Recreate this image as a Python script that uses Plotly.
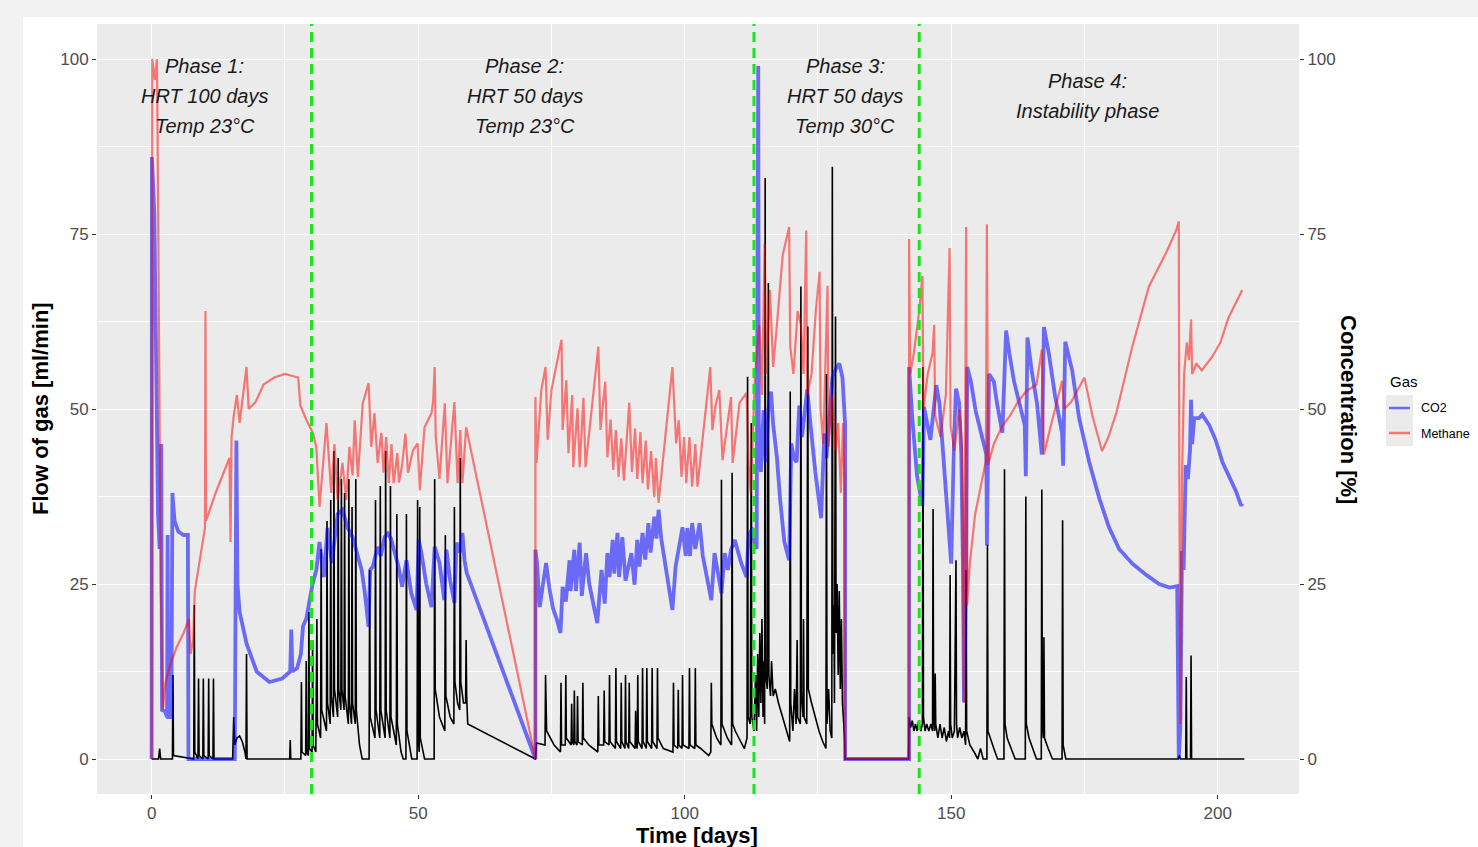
import plotly.graph_objects as go

# ---------------- data ----------------
# (time [days], value) pairs
methane_p1 = [(0, 0), (0.1, 100), (0.6, 97), (1.0, 100), (1.3, 70), (1.7, 25), (2.1, 7), (2.6, 11), (3.5, 13.5),
              (4.7, 16), (6, 18), (7.0, 20), (7.3, 15), (7.8, 17), (8.1, 24), (9.0, 28), (9.6, 31), (10.0, 33),
              (10.1, 64), (10.2, 34), (12, 38), (13.5, 41), (14.6, 43), (14.8, 31), (15.0, 46), (15.4, 49),
              (16.0, 52), (16.5, 48), (17.8, 56), (18.2, 50), (19.5, 51), (21, 53.5), (23, 54.5), (25, 55),
              (27.5, 54.5), (27.9, 50.5), (29.0, 48.5), (30.3, 46.5), (30.9, 44.5)]
methane_p2a = [(31.5, 36), (32.8, 48), (33.7, 38), (34.3, 45), (34.9, 37), (35.8, 42.3), (36.5, 37), (37.1, 44.6),
               (37.7, 40.5), (38.1, 48.4), (38.7, 40.3), (39.6, 50.8), (40.7, 53.7), (41.2, 44.6), (41.8, 49.4),
               (42.4, 42.3), (43.1, 46.6), (43.5, 40.9), (44.0, 46), (44.5, 39.4), (45.0, 45), (45.4, 39.4),
               (46.1, 43.7), (46.4, 39.5), (47.0, 42), (47.6, 46.5), (48.1, 40.9), (49.0, 44), (49.9, 45.1),
               (50.3, 38.4), (51.2, 47.4), (52.5, 49.4), (52.8, 51), (53.1, 56), (53.3, 46), (54.0, 40),
               (55.0, 50.8), (55.5, 39.4), (56.8, 51), (57.4, 39.4), (57.9, 47), (58.3, 39.4), (59.0, 47.4),
               (72.0, 0)]
methane_p2b = [(72.0, 51.7), (72.2, 42.3), (73.1, 52.7), (73.9, 56), (74.3, 45.6), (75, 52.7), (76.9, 59.9),
               (77.1, 47), (77.8, 54.1), (78.2, 43.7), (78.9, 52), (79.1, 41.7), (79.9, 50.1), (80.3, 41.7),
               (81, 51.6), (81.4, 41.7), (83.8, 58.9), (84.2, 47), (85.1, 53.9), (85.5, 43.1), (86.1, 48.5),
               (86.6, 41.3), (87.1, 47.0), (87.6, 40.3), (88.1, 45.8), (88.6, 39.8), (89.6, 50.9), (90.1, 41),
               (90.7, 47.2), (91.1, 40), (91.7, 46.7), (92.1, 39.4), (92.7, 45.5), (93.1, 38.5), (93.7, 44),
               (94.3, 37.4), (94.6, 43), (95.1, 36.6), (97.7, 56), (98.4, 45.1), (98.9, 48.4), (99.4, 40.3),
               (99.9, 46), (100.3, 39.4), (100.9, 46), (101.4, 38.9), (102, 45), (102.4, 38.9), (104.8, 56),
               (105.2, 47), (105.8, 50.5), (106.5, 52.7), (107.1, 42.7), (108.7, 51.7), (109, 42.3),
               (110.3, 50.9), (111.6, 52.3), (112.0, 42), (112.4, 38), (112.8, 46)]
methane_p3 = [(113.2, 55), (114.0, 62), (114.5, 52), (115.0, 73.6), (115.3, 55), (116.0, 67), (116.6, 56),
              (117.3, 62), (118.4, 72), (119.6, 76), (119.8, 59), (120.4, 55), (121.2, 64), (121.8, 62),
              (122.3, 55), (122.8, 75.5), (123.0, 52), (123.8, 55), (124.6, 64), (125.3, 69.6), (125.5, 50),
              (126.0, 45), (126.8, 67.6), (127.0, 44.6), (127.6, 52), (128.3, 44), (128.8, 48), (129.3, 38),
              (129.7, 48), (130.0, 40), (130.1, 0), (142.1, 0)]
methane_p4 = [(142.1, 74.3), (142.3, 55), (143.0, 58), (144.0, 64), (144.6, 69), (144.8, 50), (145.6, 55),
              (146.5, 58), (146.8, 62), (147.0, 49), (148, 46), (149.0, 52), (149.7, 73), (149.9, 47.5),
              (150.6, 44), (151.5, 50), (152.0, 45), (152.4, 8), (152.6, 40), (152.8, 76), (153.0, 22),
              (153.5, 28), (154.5, 35), (155.5, 39), (156.5, 42.5), (156.7, 76.4), (156.9, 42), (158, 45),
              (159.5, 47.5), (161, 49), (162.5, 51), (164, 52.5), (166, 53.5), (167.0, 58.5), (167.4, 43.5),
              (168.5, 47), (170.8, 54), (171.2, 50), (172.5, 51), (175, 54.5), (176.5, 49), (178.3, 44),
              (179.5, 46), (181, 49.5), (184, 59), (187.1, 67.5), (190.3, 72.3), (192.2, 75.5), (192.7, 76.8),
              (192.8, 40), (193.0, 5), (193.3, 40), (193.7, 55), (194.2, 59.5), (194.6, 57), (195.0, 62.8),
              (195.2, 55), (196, 56.5), (197, 55.5), (199, 57.5), (200.5, 59.5), (202, 63), (203, 64.5),
              (204, 66.2), (204.6, 67)]

co2_p1 = [(0, 0), (0.05, 86), (0.5, 78), (0.9, 47), (1.2, 35), (1.5, 30), (1.8, 45), (1.95, 7), (2.5, 6.8),
          (2.9, 6), (3.0, 32), (3.1, 6), (3.7, 6), (3.9, 38), (4.3, 34), (5, 32.5), (6, 32), (6.8, 32), (6.9, 0),
          (15.6, 0), (15.9, 45.5), (16.1, 25), (16.5, 21), (17.8, 16.5), (19.7, 12.5), (22.1, 11), (24.5, 11.5),
          (26.0, 12.5), (26.2, 18.5), (26.4, 12.5), (27.3, 13), (28, 15), (28.4, 19), (29.0, 20), (29.6, 22.5),
          (30.2, 25), (30.9, 27), (31.5, 31)]
co2_p2a = [(32.3, 26), (33, 33), (33.8, 28), (34.9, 35), (35.8, 35.6), (36.8, 33), (37.7, 31.7), (38.5, 29.5),
           (39.4, 27), (40, 23.7), (40.7, 18.9), (41, 27), (41.5, 27.5), (42.4, 30.3), (43, 29), (43.7, 31.7),
           (44.3, 32.2), (44.9, 31.5), (45.6, 29.4), (46.3, 27.5), (47, 24.6), (47.8, 28.4), (48.7, 23.7),
           (49.7, 21.3), (50.1, 31.3), (50.6, 29.5), (51.5, 25.1), (52.5, 21.7), (53.1, 30.3), (54, 28),
           (54.9, 22.7), (55.3, 29.9), (56, 25.5), (56.8, 22.3), (57.2, 30.9), (57.8, 29.5), (58.3, 32.3),
           (58.7, 28.4), (59.1, 26.6), (72, 0)]
co2_p2b = [(72, 29.9), (72.3, 28), (72.8, 21.7), (74, 28), (74.6, 24.5), (75.3, 21.5), (76, 20), (76.7, 18),
           (77.1, 24.6), (77.7, 22.5), (78.4, 28.4), (78.6, 24), (79.3, 29.9), (79.6, 24), (80.3, 30.9),
           (80.7, 23.3), (81.5, 29.4), (82.1, 25), (83.6, 19.4), (84.4, 27), (85, 22.2), (85.5, 29.4), (85.9, 26),
           (86.5, 31.3), (86.8, 26.5), (87.4, 32.3), (87.7, 26), (88.3, 31.7), (88.9, 25.5), (90, 29.4),
           (90.6, 24.9), (91.1, 31.3), (91.5, 27.5), (92.1, 32.3), (92.6, 28.5), (93.2, 33.7), (93.6, 29.5),
           (94.3, 34.6), (94.7, 31.5), (95.1, 35.6), (95.6, 31.5), (96.6, 26.6), (97.7, 21.3), (98.3, 27.5),
           (99, 30.3), (99.6, 33.1), (100.2, 29), (100.5, 33), (101, 29), (101.4, 33.7), (102, 30), (102.8, 33.7),
           (103.4, 29), (105, 22.7), (105.6, 29.4), (106.2, 26.5), (106.9, 23.7), (107.5, 29.4), (108.1, 27),
           (108.7, 29.9), (109.4, 31.3), (110.6, 28), (111.6, 26), (112.0, 32), (112.8, 33), (113.1, 31)]
co2_p3 = [(113.5, 30), (113.8, 99), (113.9, 47.8), (114.3, 41), (114.8, 49.8), (115.2, 42.4), (115.7, 50),
          (116.2, 52.5), (116.6, 47.8), (117.3, 43.1), (117.9, 37.1), (118.7, 31), (119.6, 28.4), (120, 45.1),
          (120.5, 43), (121.0, 42.4), (121.5, 50.5), (122, 46), (122.6, 50), (123, 52.8), (123.6, 47.8),
          (124.5, 41.1), (125.6, 34.4), (126.2, 46.5), (126.6, 43), (127.2, 49), (127.7, 54.5), (128.4, 55.8),
          (129, 56.5), (129.6, 54.5), (130.1, 47.8), (130.1, 0), (142.1, 0)]
co2_p4 = [(142.1, 56), (142.7, 48.7), (143.6, 40.4), (144.6, 36.2), (144.9, 50.3), (145.5, 47.7), (146.1, 45.6),
          (147.2, 53.4), (147.8, 50.8), (148.5, 43.5), (149.4, 34.1), (150, 27.9), (150.5, 45), (150.9, 52.9),
          (151.5, 50.8), (151.9, 43.5), (152.2, 27.9), (152.4, 8.1), (152.8, 25), (153.0, 56), (153.7, 53.9),
          (154.6, 49.7), (155.6, 46.6), (156.6, 43.5), (156.7, 30.5), (157.1, 55), (158, 53.9), (158.6, 50.8),
          (159.6, 46.6), (160.3, 61.2), (160.9, 58), (161.8, 53.9), (162.8, 50.8), (163.8, 47.7), (164.0, 40.4),
          (164.3, 60.2), (165.1, 55.5), (166.1, 50.8), (167, 43.5), (167.4, 61.7), (168.3, 58), (169.5, 51.8),
          (170.8, 46.6), (171, 41.9), (171.4, 59.6), (172.7, 55.5), (174, 48.7), (175.9, 42.4), (177.8, 37.2),
          (179.6, 33.1), (181.5, 30), (184, 27.9), (186.6, 26.3), (189, 25), (191, 24.5), (192.4, 24.7),
          (192.7, 0), (193.0, 5), (193.3, 29.7), (193.6, 27), (194, 42), (194.4, 40), (194.8, 44), (195, 51.3),
          (195.2, 45), (195.6, 48.7), (196.5, 48.7), (197.1, 49.2), (198.4, 47.7), (199.6, 45.6), (200.9, 42.4),
          (202.1, 40.4), (203.4, 38.3), (204.4, 36.2), (204.6, 36.5)]

flow_p1 = [(0, 0), (1.3, 0), (1.5, 1.5), (1.7, 0), (3.9, 0), (4.0, 12), (4.1, 0.5), (7.9, 0), (8.0, 22), (8.1, 1),
           (8.7, 0), (8.8, 11.5), (8.9, 0.5), (9.6, 0), (9.7, 11.5), (9.8, 0.5), (10.6, 0), (10.7, 11.5),
           (10.8, 0.5), (11.5, 0), (11.6, 11.5), (11.7, 0), (15.2, 0), (15.4, 6), (15.6, 2), (16.0, 3),
           (16.5, 3.3), (17.0, 2.5), (17.5, 1), (17.7, 0), (17.8, 15), (17.9, 0), (25.9, 0), (26.0, 2.7),
           (26.1, 0), (28.0, 0), (28.1, 11), (28.2, 1), (28.9, 0.5), (29.0, 14), (29.1, 1), (29.4, 0.5),
           (29.5, 21), (29.6, 1.5), (30.1, 1), (30.2, 17), (30.3, 2), (30.8, 1)]
flow_p2a = [(31.0, 20), (31.1, 5), (31.7, 3), (31.8, 30), (31.9, 7), (32.8, 4), (32.9, 34), (33.0, 8), (33.5, 5),
            (33.6, 37), (33.7, 9), (34.1, 6), (34.2, 44), (34.3, 10), (34.9, 6), (35.0, 43), (35.1, 10),
            (35.5, 7), (35.6, 40), (35.7, 10), (36.1, 7), (36.2, 38), (36.3, 9), (36.9, 5), (37.0, 40), (37.1, 8),
            (37.5, 5), (37.6, 36), (37.7, 8), (38.2, 5), (38.3, 40), (38.4, 7), (39.0, 2), (39.5, 0), (40.8, 0),
            (40.9, 27), (41.0, 6), (41.9, 3), (42.0, 37), (42.1, 7), (42.8, 3), (42.9, 39), (43.0, 7), (43.8, 3),
            (43.9, 44), (44.0, 7), (44.7, 3), (44.8, 39), (44.9, 6), (45.9, 2), (46.0, 35), (46.1, 5), (46.8, 1),
            (47.2, 0), (47.7, 0), (47.8, 35), (47.9, 4), (48.8, 0), (49.8, 0), (49.9, 37), (50.0, 3), (50.2, 1),
            (50.3, 36), (50.4, 3), (51.2, 0), (53.0, 0), (53.1, 40), (53.2, 10), (54.0, 6), (55.0, 4),
            (55.1, 32), (55.2, 9), (56.0, 6), (56.7, 5), (56.8, 36), (56.9, 11), (57.4, 8), (57.8, 7),
            (57.9, 43), (58.0, 11), (58.5, 8), (58.9, 8), (59.0, 17), (59.1, 9), (59.3, 5), (72.0, 0)]
flow_p2b = [(72.2, 2.3), (73.8, 2), (73.9, 12), (74.1, 4), (75.5, 2), (76.7, 1), (76.8, 10.9), (76.9, 2),
            (77.6, 2), (77.7, 12), (77.8, 3), (78.7, 2), (78.8, 7.9), (78.9, 2.5), (79.2, 2), (79.3, 9.8),
            (79.4, 2.5), (79.8, 2), (79.9, 9), (80.0, 2.5), (80.8, 2), (80.9, 10.9), (81.0, 3), (82, 2),
            (83.7, 1), (83.8, 9), (83.9, 2), (84.8, 2), (84.9, 9.8), (85.0, 2.5), (85.8, 2), (85.9, 12),
            (86.0, 2.5), (87.0, 1.5), (87.1, 13), (87.2, 2.5), (88.0, 1.5), (88.1, 10.9), (88.2, 2.5),
            (88.8, 1.5), (88.9, 12), (89.0, 2.5), (89.5, 1.5), (89.6, 10.9), (89.7, 2.5), (90.7, 1.5),
            (90.8, 6.9), (90.9, 2), (91.1, 1.5), (91.2, 12), (91.3, 2.5), (92.0, 1.5), (92.1, 13), (92.2, 2.5),
            (92.8, 1.5), (92.9, 13), (93.0, 2.5), (93.8, 1.5), (93.9, 13), (94.0, 2.5), (94.8, 1.5), (94.9, 13),
            (95.0, 3), (96, 1.5), (97.8, 1), (97.9, 10.9), (98.0, 2), (98.7, 1.5), (98.8, 9.9), (98.9, 2),
            (99.5, 1.5), (99.6, 12), (99.7, 2), (100.8, 1.5), (100.9, 13), (101.0, 2), (101.9, 1.5), (102.0, 13),
            (102.1, 2), (103, 1.5), (104.5, 0.5), (104.9, 1), (105.0, 10.9), (105.1, 5), (106, 3), (106.8, 2),
            (106.9, 39.9), (107.0, 5), (107.5, 4), (108, 3), (108.8, 2), (108.9, 40.9), (109.0, 5), (109.5, 4),
            (110.5, 2.5), (111.2, 1.5), (111.7, 3), (111.8, 54.6), (111.9, 6), (112.3, 5), (112.5, 48),
            (112.6, 6), (113.0, 4)]
flow_p3 = [(113.3, 12), (113.5, 4), (113.7, 15), (113.9, 6), (114.1, 18), (114.3, 8), (114.5, 20), (114.7, 6),
           (114.9, 14), (115.0, 5), (115.1, 83), (115.2, 12), (115.5, 10), (115.7, 68), (115.8, 12), (116.1, 9),
           (116.3, 14), (116.6, 9), (117, 10), (117.6, 8), (118.2, 6.5), (118.8, 5), (119.4, 3.5), (119.7, 2.5),
           (119.8, 52.5), (119.9, 8), (120.3, 4), (120.6, 10), (120.9, 5), (121.1, 17), (121.2, 6), (121.7, 5),
           (121.8, 67.5), (121.9, 9), (122.2, 6), (122.3, 20), (122.4, 6), (122.9, 5), (123.1, 61.8),
           (123.2, 10), (123.8, 8), (124.5, 6), (125.2, 4), (125.9, 2.5), (126.5, 1.5), (126.6, 55), (126.7, 5),
           (127, 10), (127.3, 4), (127.6, 3), (127.7, 84.6), (127.8, 15), (128.0, 22), (128.1, 8), (128.3, 63.2),
           (128.4, 18), (128.6, 25), (128.8, 12), (129.0, 24), (129.2, 10), (129.4, 20), (129.6, 8), (129.9, 5),
           (130.0, 3), (130.1, 0), (142.0, 0)]
flow_p4 = [(142.1, 6), (142.4, 4.5), (142.7, 5.5), (143.0, 4), (143.3, 5), (143.6, 4), (143.9, 5.5), (144.3, 4),
           (144.6, 5), (144.7, 56), (144.8, 6), (145.1, 4), (145.4, 5), (145.8, 4), (146.2, 5), (146.5, 4),
           (146.6, 35.7), (146.7, 6), (146.9, 4), (147.0, 12.2), (147.1, 5), (147.5, 3), (147.9, 5), (148.3, 3),
           (148.7, 4.5), (149.1, 2.5), (149.5, 4), (149.7, 3), (149.8, 26.3), (149.9, 5), (150.2, 3),
           (150.6, 4), (150.9, 28.4), (151.0, 5), (151.2, 3), (151.6, 4.5), (152.0, 3), (152.4, 4), (152.7, 2),
           (152.8, 27), (152.9, 4), (153.5, 2), (154.3, 1), (155, 0), (155.5, 1.5), (156, 0), (156.7, 0),
           (156.8, 30.6), (156.9, 4), (157.3, 3), (158, 1.5), (158.7, 0), (159.9, 0), (160.0, 41.4),
           (160.1, 5), (160.5, 3), (161.2, 1.5), (162, 0), (163.9, 0), (164.0, 37.5), (164.1, 5), (164.6, 3),
           (165.3, 1.5), (166, 0), (166.9, 0), (167.0, 38.5), (167.1, 5), (167.3, 3), (167.4, 17.4), (167.5, 3),
           (168.2, 1.5), (169, 0), (170.8, 0), (170.9, 34.1), (171.0, 2), (171.5, 0), (192.6, 0), (192.8, 0.5),
           (193, 0), (194.0, 0), (194.1, 11.7), (194.2, 0), (194.9, 0), (195.0, 14.8), (195.1, 0), (205, 0)]

phase_boundaries = [30, 113, 144]
phase_labels = [["Phase 1:", "HRT 100 days", "Temp 23°C"],
                ["Phase 2:", "HRT 50 days", "Temp 23°C"],
                ["Phase 3:", "HRT 50 days", "Temp 30°C"],
                ["Phase 4:", "Instability phase"]]
phase_label_x = [10, 70, 130.1, 175.6]
phase_label_top = [99.0, 99.0, 99.0, 96.9]
x_ticks = [0, 50, 100, 150, 200]
y_ticks = [0, 25, 50, 75, 100]
gas_names = ["CO2", "Methane"]

# ---------------- build ----------------
def split(*parts):
    pts = [p for part in parts for p in part]
    return [p[0] for p in pts], [p[1] for p in pts]

ch4_t, ch4_v = split(methane_p1, methane_p2a, methane_p2b, methane_p3, methane_p4)
co2_t, co2_v = split(co2_p1, co2_p2a, co2_p2b, co2_p3, co2_p4)
flow_t, flow_v = split(flow_p1, flow_p2a, flow_p2b, flow_p3, flow_p4)

FONT = "Liberation Sans, Arial, sans-serif"
CO2_COL = "rgba(0,0,255,0.55)"
CH4_COL = "rgba(255,0,0,0.5)"

fig = go.Figure()
fig.add_trace(go.Scatter(x=flow_t, y=flow_v, mode="lines", line=dict(color="black", width=1.6),
                         showlegend=False, hoverinfo="skip"))
fig.add_trace(go.Scatter(x=co2_t, y=co2_v, mode="lines", name=gas_names[0], yaxis="y2",
                         line=dict(color=CO2_COL, width=3.8), showlegend=False))
fig.add_trace(go.Scatter(x=ch4_t, y=ch4_v, mode="lines", name=gas_names[1], yaxis="y2",
                         line=dict(color=CH4_COL, width=2.2), showlegend=False))

W, H = 1478, 847
L, R, T, B = 97, 179, 24, 53
pw, ph = W - L - R, H - T - B

def PX(px):
    return (px - L) / pw

def PY(py):
    return (H - B - py) / ph

shapes = [
    dict(type="rect", xref="paper", yref="paper", x0=PX(23), x1=PX(W + 5), y0=PY(17), y1=PY(H + 5),
         fillcolor="white", line=dict(width=0), layer="below"),
    dict(type="rect", xref="paper", yref="paper", x0=0, x1=1, y0=0, y1=1,
         fillcolor="#ebebeb", line=dict(width=0), layer="below"),
]
for xb in phase_boundaries:
    shapes.append(dict(type="line", xref="x", yref="paper", x0=xb, x1=xb, y0=0, y1=1,
                       line=dict(color="#19e619", width=3, dash="10px,6px"), layer="above"))

# manual legend (ggplot style)
shapes.append(dict(type="rect", xref="paper", yref="paper", x0=PX(1386), x1=PX(1413), y0=PY(446), y1=PY(395),
                   fillcolor="#ebebeb", line=dict(width=0)))
for py, col in [(408, CO2_COL), (433, CH4_COL)]:
    shapes.append(dict(type="line", xref="paper", yref="paper", x0=PX(1389), x1=PX(1410), y0=PY(py), y1=PY(py),
                       line=dict(color=col, width=2.5)))

annotations = []
for lines, xc, ytop in zip(phase_labels, phase_label_x, phase_label_top):
    for i, txt in enumerate(lines):
        annotations.append(dict(x=xc, y=ytop - i * 30 / 7, xref="x", yref="y", text="<i>" + txt + "</i>",
                                showarrow=False, font=dict(family=FONT, size=20, color="#1a1a1a"),
                                xanchor="center", yanchor="middle"))

annotations += [
    dict(x=PX(697), y=PY(835), xref="paper", yref="paper", text="<b>Time [days]</b>", showarrow=False,
         font=dict(family=FONT, size=22, color="black"), xanchor="center", yanchor="middle"),
    dict(x=PX(40), y=PY(409), xref="paper", yref="paper", text="<b>Flow of gas [ml/min]</b>", showarrow=False,
         font=dict(family=FONT, size=22, color="black"), textangle=-90, xanchor="center", yanchor="middle"),
    dict(x=PX(1349), y=PY(409), xref="paper", yref="paper", text="<b>Concentration [%]</b>", showarrow=False,
         font=dict(family=FONT, size=22, color="black"), textangle=90, xanchor="center", yanchor="middle"),
    dict(x=PX(1388), y=PY(381), xref="paper", yref="paper", text="Gas", showarrow=False,
         font=dict(family=FONT, size=15, color="black"), xanchor="left", yanchor="middle"),
    dict(x=PX(1419), y=PY(408), xref="paper", yref="paper", text=gas_names[0], showarrow=False,
         font=dict(family=FONT, size=12.5, color="black"), xanchor="left", yanchor="middle"),
    dict(x=PX(1419), y=PY(434), xref="paper", yref="paper", text=gas_names[1], showarrow=False,
         font=dict(family=FONT, size=12.5, color="black"), xanchor="left", yanchor="middle"),
]

axis_common = dict(ticks="outside", ticklen=4, tickwidth=1, tickcolor="#333333",
                   tickfont=dict(family=FONT, size=17, color="#4d4d4d"), zeroline=False, showline=False)

fig.update_layout(
    width=W, height=H, margin=dict(l=L, r=R, t=T, b=B, pad=0),
    paper_bgcolor="#f2f2f2", plot_bgcolor="#ebebeb",
    font=dict(family=FONT),
    showlegend=False,
    xaxis=dict(range=[-10.25, 215.25], tickvals=x_ticks, showgrid=True, gridcolor="white", gridwidth=1.3,
               minor=dict(tickvals=[25, 75, 125, 175], showgrid=True, gridcolor="white", gridwidth=0.6, ticks=""),
               **axis_common),
    yaxis=dict(range=[-5, 105], tickvals=y_ticks, showgrid=True, gridcolor="white", gridwidth=1.3,
               minor=dict(tickvals=[12.5, 37.5, 62.5, 87.5], showgrid=True, gridcolor="white", gridwidth=0.6,
                          ticks=""),
               **axis_common),
    yaxis2=dict(range=[-5, 105], tickvals=y_ticks, overlaying="y", side="right", showgrid=False,
                **axis_common),
    shapes=shapes,
    annotations=annotations,
)

fig.write_html("out.html", config={"displayModeBar": False},
               post_script="document.body.style.margin='0';")
